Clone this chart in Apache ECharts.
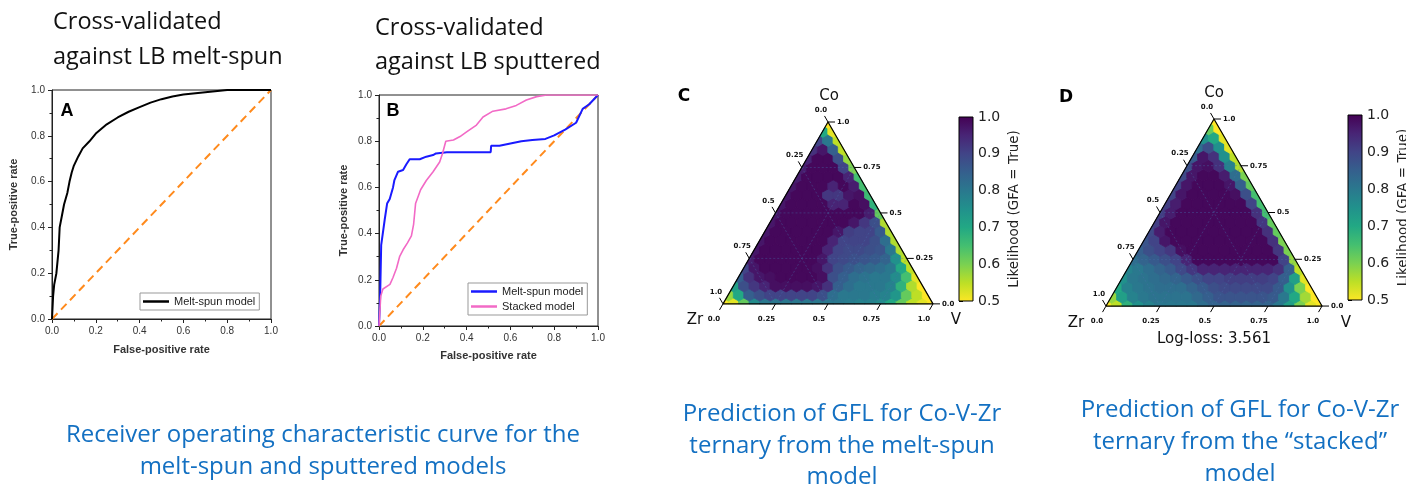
<!DOCTYPE html>
<html>
<head>
<meta charset="utf-8">
<script src="https://cdn.jsdelivr.net/npm/echarts@6/dist/echarts.min.js"></script>
<style>html,body{margin:0;padding:0;background:#fff;}#c{width:1406px;height:489px;}</style>
</head>
<body>
<div id="c"></div>
<script>
// ---------- ROC data (panel A) ----------
const rocA_fpr = [0,0.005,0.01,0.02,0.03,0.035,0.045,0.055,0.07,0.08,0.09,0.1,0.12,0.14,0.17,0.2,0.25,0.3,0.35,0.4,0.45,0.5,0.55,0.6,0.7,0.8,1.0];
const rocA_tpr = [0,0.1,0.15,0.2,0.3,0.4,0.45,0.5,0.55,0.6,0.64,0.67,0.71,0.745,0.775,0.81,0.85,0.88,0.905,0.925,0.945,0.96,0.972,0.98,0.99,1.0,1.0];
// ---------- ROC data (panel B) ----------
const rocBmelt_fpr = [0,0.005,0.01,0.026,0.037,0.049,0.064,0.07,0.087,0.11,0.125,0.14,0.186,0.216,0.247,0.26,0.31,0.51,0.512,0.55,0.6,0.65,0.7,0.76,0.8,0.85,0.9,0.93,0.96,1.0];
const rocBmelt_tpr = [0,0.12,0.35,0.46,0.53,0.55,0.6,0.63,0.668,0.675,0.7,0.722,0.722,0.733,0.74,0.747,0.752,0.752,0.78,0.78,0.79,0.8,0.805,0.81,0.825,0.85,0.88,0.94,0.96,1.0];
const rocBstack_fpr = [0,0.008,0.018,0.05,0.064,0.08,0.094,0.11,0.13,0.148,0.158,0.167,0.19,0.216,0.247,0.277,0.29,0.305,0.34,0.37,0.4,0.445,0.475,0.52,0.58,0.627,0.673,0.72,0.765,1.0];
const rocBstack_tpr = [0,0.13,0.16,0.18,0.21,0.25,0.30,0.33,0.36,0.39,0.44,0.53,0.59,0.63,0.668,0.71,0.747,0.80,0.805,0.82,0.84,0.87,0.905,0.93,0.94,0.955,0.978,0.993,1.0,1.0];
const diag = [0, 1];

// ---------- Ternary heat maps: rows of constant Co (Co = row/20), V from 0 to 1-Co in steps of 0.05 ----------
const heatC = [
 [0.5,0.52,0.62,0.76,0.8,0.8,0.8,0.8,0.8,0.8,0.8,0.8,0.79,0.78,0.78,0.76,0.7,0.62,0.55,0.52,0.5],
 [0.58,0.7,0.85,0.88,0.9,0.9,0.9,0.9,0.9,0.88,0.82,0.8,0.8,0.8,0.79,0.78,0.74,0.62,0.55,0.5],
 [0.72,0.88,0.92,0.95,0.98,0.98,0.98,0.98,0.97,0.93,0.85,0.82,0.8,0.8,0.8,0.78,0.68,0.56,0.5],
 [0.85,0.93,0.97,0.98,0.99,0.99,0.99,0.99,0.98,0.88,0.85,0.82,0.81,0.8,0.8,0.76,0.65,0.52],
 [0.9,0.97,0.99,0.99,0.99,0.99,0.99,0.98,0.93,0.88,0.86,0.84,0.83,0.82,0.8,0.7,0.55],
 [0.96,0.99,0.99,0.99,0.99,0.99,0.99,0.97,0.9,0.89,0.88,0.87,0.86,0.84,0.75,0.55],
 [0.97,0.99,0.99,0.99,0.99,0.99,0.99,0.95,0.9,0.89,0.89,0.88,0.87,0.8,0.56],
 [0.97,0.99,0.99,0.99,0.99,0.99,0.99,0.95,0.9,0.9,0.9,0.88,0.82,0.56],
 [0.97,0.99,0.99,0.99,0.99,0.99,0.99,0.97,0.91,0.9,0.9,0.86,0.56],
 [0.97,0.99,0.99,0.99,0.99,0.99,0.99,0.99,0.97,0.92,0.88,0.56],
 [0.97,0.99,0.99,0.99,0.99,0.99,0.99,0.99,0.99,0.96,0.62],
 [0.97,0.99,0.99,0.99,0.99,0.95,0.95,0.99,0.98,0.68],
 [0.97,0.99,0.99,0.99,0.92,0.92,0.97,0.98,0.66],
 [0.97,0.99,0.99,0.99,0.95,0.99,0.96,0.65],
 [0.96,0.99,0.99,0.99,0.99,0.95,0.65],
 [0.96,0.99,0.99,0.99,0.9,0.6],
 [0.95,0.99,0.99,0.88,0.58],
 [0.93,0.97,0.85,0.55],
 [0.9,0.8,0.55],
 [0.7,0.52],
 [0.5]
];
const heatD = [
 [0.5,0.55,0.68,0.75,0.78,0.8,0.8,0.8,0.8,0.82,0.84,0.84,0.84,0.84,0.84,0.84,0.8,0.72,0.6,0.52,0.5],
 [0.58,0.72,0.78,0.8,0.81,0.81,0.81,0.81,0.83,0.85,0.87,0.87,0.87,0.87,0.87,0.86,0.8,0.7,0.57,0.5],
 [0.7,0.78,0.8,0.81,0.82,0.82,0.82,0.84,0.86,0.88,0.89,0.89,0.89,0.89,0.89,0.86,0.75,0.6,0.5],
 [0.75,0.8,0.81,0.82,0.83,0.84,0.86,0.88,0.9,0.9,0.91,0.91,0.91,0.91,0.9,0.85,0.72,0.52],
 [0.78,0.8,0.82,0.84,0.86,0.89,0.92,0.95,0.95,0.95,0.95,0.95,0.95,0.95,0.93,0.85,0.55],
 [0.82,0.84,0.86,0.88,0.9,0.95,0.99,0.99,0.99,0.99,0.99,0.99,0.99,0.99,0.9,0.58],
 [0.85,0.88,0.9,0.92,0.98,0.99,0.99,0.99,0.99,0.99,0.99,0.99,0.99,0.92,0.6],
 [0.87,0.9,0.97,0.99,0.99,0.99,0.99,0.99,0.99,0.99,0.99,0.99,0.93,0.6],
 [0.89,0.96,0.99,0.99,0.99,0.99,0.99,0.99,0.99,0.99,0.99,0.93,0.62],
 [0.91,0.97,0.99,0.99,0.99,0.99,0.99,0.99,0.99,0.99,0.92,0.62],
 [0.91,0.96,0.99,0.99,0.99,0.99,0.99,0.99,0.99,0.93,0.65],
 [0.91,0.96,0.99,0.99,0.99,0.99,0.99,0.99,0.9,0.65],
 [0.9,0.97,0.99,0.99,0.99,0.99,0.98,0.88,0.65],
 [0.9,0.97,0.99,0.99,0.99,0.97,0.85,0.62],
 [0.89,0.97,0.99,0.99,0.96,0.82,0.6],
 [0.88,0.97,0.98,0.93,0.78,0.56],
 [0.86,0.97,0.93,0.75,0.55],
 [0.82,0.88,0.75,0.52],
 [0.75,0.7,0.52],
 [0.62,0.5],
 [0.5]
];
const ternTicks = [0, 0.25, 0.5, 0.75, 1.0];
const ternTickLabels = ['0.0', '0.25', '0.5', '0.75', '1.0'];
const ternGridVals = [0.25, 0.5, 0.75];
const cbRange = [0.5, 1.0];
const VIRIDIS = ['#440154','#482475','#414487','#355f8d','#2a788e','#21918c','#22a884','#44bf70','#7ad151','#bddf26','#fde725'];

// ---------- helpers ----------
const SQ3 = Math.sqrt(3);
const N = heatC.length - 1;
function tern(co, v) { return [v + co / 2, co * SQ3 / 2]; }
function zip(a, b) { return a.map((x, i) => [x, b[i]]); }
function heatData(rows) {
  const out = [];
  rows.forEach((row, c) => row.forEach((val, v) => {
    const p = tern(c / N, v / N);
    out.push([p[0], p[1], val]);
  }));
  return out;
}
function clipHex(cx, cy, r) {
  let pts = [];
  for (let k = 0; k < 6; k++) {
    const a = Math.PI / 6 + k * Math.PI / 3;
    pts.push([cx + r * Math.cos(a), cy + r * Math.sin(a)]);
  }
  const fs = [p => p[1], p => SQ3 * p[0] - p[1], p => SQ3 * (1 - p[0]) - p[1]];
  for (const f of fs) {
    const out = [];
    for (let i = 0; i < pts.length; i++) {
      const A = pts[i], B = pts[(i + 1) % pts.length];
      const fa = f(A), fb = f(B);
      if (fa >= 0) out.push(A);
      if ((fa >= 0) !== (fb >= 0)) {
        const t = fa / (fa - fb);
        out.push([A[0] + t * (B[0] - A[0]), A[1] + t * (B[1] - A[1])]);
      }
    }
    pts = out;
    if (!pts.length) break;
  }
  return pts;
}
const HEX_R = (1 / N) / SQ3 * 1.04;
function heatRender(params, api) {
  const pts = clipHex(api.value(0), api.value(1), HEX_R).map(p => api.coord(p));
  const col = api.visual('color');
  return { type: 'polygon', shape: { points: pts }, style: { fill: col, stroke: col, lineWidth: 0.8 } };
}
function gridData() {
  const out = [];
  for (let ax = 0; ax < 3; ax++) ternGridVals.forEach(t => out.push([ax, t]));
  return out;
}
function gridRender(params, api) {
  const ax = api.value(0), t = api.value(1);
  let a, b;
  if (ax === 0) { a = tern(t, 0); b = tern(t, 1 - t); }
  else if (ax === 1) { a = tern(0, t); b = tern(1 - t, t); }
  else { a = tern(1 - t, 0); b = tern(0, 1 - t); }
  const p = api.coord(a), q = api.coord(b);
  return { type: 'line', shape: { x1: p[0], y1: p[1], x2: q[0], y2: q[1] },
    style: { stroke: 'rgba(70,110,170,0.55)', lineWidth: 0.7, lineDash: [2, 2] } };
}
function tickData() {
  const out = [];
  for (let ax = 0; ax < 3; ax++) ternTicks.forEach((t, i) => out.push([ax, t, i]));
  return out;
}
function tickRender(params, api) {
  const ax = api.value(0), t = api.value(1), i = api.value(2);
  let P, d, off, align;
  if (ax === 0) { P = tern(0, t); d = [-0.5, -SQ3 / 2]; off = 18; align = 'center'; }
  else if (ax === 1) { P = tern(t, 1 - t); d = [1, 0]; off = 9; align = 'left'; }
  else { P = tern(1 - t, 0); d = [-0.5, SQ3 / 2]; off = 14; align = 'center'; }
  const p = api.coord(P);
  const dx = d[0], dy = -d[1];
  return { type: 'group', children: [
    { type: 'line', shape: { x1: p[0], y1: p[1], x2: p[0] + dx * 7, y2: p[1] + dy * 7 }, style: { stroke: '#000', lineWidth: 1 } },
    { type: 'text', style: { text: ternTickLabels[i], x: p[0] + dx * off, y: p[1] + dy * off, fill: '#111',
      font: 'bold 7px "DejaVu Sans"', align: align, textAlign: align, verticalAlign: 'middle', textVerticalAlign: 'middle' } }
  ] };
}
function borderData() { return [tern(0, 0), tern(0, 1), tern(1, 0), tern(0, 0)]; }
function cbRender(params, api) {
  const p0 = api.coord([0, api.value(0)]);
  const p1 = api.coord([1, api.value(1)]);
  return { type: 'rect', shape: { x: p0[0], y: p1[1], width: p1[0] - p0[0], height: p0[1] - p1[1] },
    style: { fill: new echarts.graphic.LinearGradient(0, 0, 0, 1, VIRIDIS.map((c, i) => ({ offset: i / 10, color: c }))),
      stroke: '#000', lineWidth: 1 } };
}

function rocX(grid, gap) {
  return { gridIndex: grid, type: 'value', min: 0, max: 1, interval: 0.2,
    axisLine: { show: true, lineStyle: { color: '#222', width: 1 } },
    axisTick: { show: true, inside: false, length: 4, lineStyle: { color: '#222' } },
    minorTick: { show: true, splitNumber: 2, length: 2.5, lineStyle: { color: '#222' } },
    splitLine: { show: false },
    axisLabel: { formatter: v => v.toFixed(1), fontSize: 10, color: '#333', margin: 7, fontFamily: 'Liberation Sans' },
    name: 'False-positive rate', nameLocation: 'middle', nameGap: gap,
    nameTextStyle: { fontSize: 11, fontWeight: 'bold', color: '#333', fontFamily: 'Liberation Sans' } };
}
function rocY(grid, gap) {
  return { gridIndex: grid, type: 'value', min: 0, max: 1, interval: 0.2,
    axisLine: { show: true, lineStyle: { color: '#222', width: 1 } },
    axisTick: { show: true, inside: false, length: 4, lineStyle: { color: '#222' } },
    minorTick: { show: true, splitNumber: 2, length: 2.5, lineStyle: { color: '#222' } },
    splitLine: { show: false },
    axisLabel: { formatter: v => v.toFixed(1), fontSize: 10, color: '#333', margin: 7, fontFamily: 'Liberation Sans' },
    name: 'True-positive rate', nameLocation: 'middle', nameGap: gap,
    nameTextStyle: { fontSize: 11, fontWeight: 'bold', color: '#333', fontFamily: 'Liberation Sans' } };
}
const hidX = g => ({ gridIndex: g, type: 'value', min: 0, max: 1, show: false });
const hidY = g => ({ gridIndex: g, type: 'value', min: 0, max: SQ3 / 2, show: false });
function cbY(g, gap) {
  return { gridIndex: g, type: 'value', min: cbRange[0], max: cbRange[1], interval: 0.1, position: 'right',
    axisLine: { show: false }, splitLine: { show: false },
    axisTick: { show: true, inside: false, length: 4, lineStyle: { color: '#000' } },
    axisLabel: { formatter: v => v.toFixed(1), fontSize: 14, color: '#222', margin: 5, fontFamily: 'DejaVu Sans' },
    name: 'Likelihood (GFA = True)', nameLocation: 'middle', nameRotate: 90, nameGap: gap,
    nameTextStyle: { fontSize: 13.5, color: '#222', fontFamily: 'DejaVu Sans' } };
}
const ROC_GRID = { show: true, borderColor: '#222', borderWidth: 1, backgroundColor: 'transparent', containLabel: false, outerBoundsMode: 'none' };
const PLAIN_GRID = { show: false, containLabel: false, outerBoundsMode: 'none' };
const rocLine = (name, x, y, data, color, w) => ({ name, type: 'line', xAxisIndex: x, yAxisIndex: y, data, symbol: 'none',
  showSymbol: false, lineStyle: { color, width: w }, itemStyle: { color }, silent: true, clip: true, z: 3 });
const diagLine = (x) => ({ name: 'diag' + x, type: 'line', xAxisIndex: x, yAxisIndex: x, data: zip(diag, diag), symbol: 'none',
  lineStyle: { color: '#ff8a1c', width: 2, type: [8, 5] }, silent: true, z: 2 });
const txt = (text, x, y, font, fill, align, lh) => ({ type: 'text', x, y, silent: true,
  style: { text, font, fill, align, textAlign: align, verticalAlign: 'middle', textVerticalAlign: 'middle', lineHeight: lh } });
const TITLE_FONT = '23.5px "Open Sans"';
const CAP_FONT = '24px "Open Sans"';
const BLUE = '#1370c2';
const legendBase = { orient: 'vertical', icon: 'rect', itemWidth: 26, itemHeight: 2.5, itemGap: 4,
  padding: [3, 4, 3, 3], borderColor: '#999', borderWidth: 1, selectedMode: false,
  formatter: n => n.slice(3), textStyle: { fontSize: 11, color: '#222', fontFamily: 'Liberation Sans' } };

const option = {
  animation: false,
  backgroundColor: '#ffffff',
  grid: [
    Object.assign({ left: 52, top: 90, width: 219, height: 229 }, ROC_GRID),
    Object.assign({ left: 379, top: 95, width: 219, height: 231 }, ROC_GRID),
    Object.assign({ left: 723, top: 122, width: 210, height: 210 * SQ3 / 2 }, PLAIN_GRID),
    Object.assign({ left: 959, top: 117, width: 14, height: 184 }, PLAIN_GRID),
    Object.assign({ left: 1106, top: 119, width: 216, height: 216 * SQ3 / 2 }, PLAIN_GRID),
    Object.assign({ left: 1348, top: 115, width: 14, height: 185 }, PLAIN_GRID)
  ],
  xAxis: [rocX(0, 25), rocX(1, 24), hidX(2), hidX(3), hidX(4), hidX(5)],
  yAxis: [rocY(0, 33), rocY(1, 30), hidY(2), cbY(3, 34), hidY(4), cbY(5, 34)],
  visualMap: { type: 'continuous', show: false, min: cbRange[0], max: cbRange[1], dimension: 2,
    seriesIndex: [5, 10], inRange: { color: VIRIDIS.slice().reverse() } },
  legend: [
    Object.assign({ data: ['A: Melt-spun model'], left: 140, top: 293 }, legendBase),
    Object.assign({ data: ['B: Melt-spun model', 'B: Stacked model'], left: 468, top: 283 }, legendBase)
  ],
  series: [
    diagLine(0),
    rocLine('A: Melt-spun model', 0, 0, zip(rocA_fpr, rocA_tpr), '#000000', 2),
    diagLine(1),
    rocLine('B: Melt-spun model', 1, 1, zip(rocBmelt_fpr, rocBmelt_tpr), '#1a1aff', 2),
    rocLine('B: Stacked model', 1, 1, zip(rocBstack_fpr, rocBstack_tpr), '#f26ac6', 1.6),
    { type: 'custom', xAxisIndex: 2, yAxisIndex: 2, data: heatData(heatC), renderItem: heatRender, clip: false, silent: true, encode: { x: 0, y: 1 }, z: 2 },
    { type: 'custom', xAxisIndex: 2, yAxisIndex: 2, data: gridData(), renderItem: gridRender, clip: false, silent: true, z: 3 },
    { type: 'line', xAxisIndex: 2, yAxisIndex: 2, data: borderData(), symbol: 'none', clip: false, silent: true, lineStyle: { color: '#000', width: 1.2 }, z: 4 },
    { type: 'custom', xAxisIndex: 2, yAxisIndex: 2, data: tickData(), renderItem: tickRender, clip: false, silent: true, z: 4 },
    { type: 'custom', xAxisIndex: 3, yAxisIndex: 3, data: [cbRange], renderItem: cbRender, clip: false, silent: true, encode: { y: [0, 1] }, z: 2 },
    { type: 'custom', xAxisIndex: 4, yAxisIndex: 4, data: heatData(heatD), renderItem: heatRender, clip: false, silent: true, encode: { x: 0, y: 1 }, z: 2 },
    { type: 'custom', xAxisIndex: 4, yAxisIndex: 4, data: gridData(), renderItem: gridRender, clip: false, silent: true, z: 3 },
    { type: 'line', xAxisIndex: 4, yAxisIndex: 4, data: borderData(), symbol: 'none', clip: false, silent: true, lineStyle: { color: '#000', width: 1.2 }, z: 4 },
    { type: 'custom', xAxisIndex: 4, yAxisIndex: 4, data: tickData(), renderItem: tickRender, clip: false, silent: true, z: 4 },
    { type: 'custom', xAxisIndex: 5, yAxisIndex: 5, data: [cbRange], renderItem: cbRender, clip: false, silent: true, encode: { y: [0, 1] }, z: 2 }
  ],
  graphic: [
    txt('Cross-validated\nagainst LB melt-spun', 53, 40, TITLE_FONT, '#111', 'left', 35),
    txt('Cross-validated\nagainst LB sputtered', 375, 45, TITLE_FONT, '#111', 'left', 34),
    txt('Receiver operating characteristic curve for the\nmelt-spun and sputtered models', 323, 451, CAP_FONT, BLUE, 'center', 32),
    txt('Prediction of GFL for Co-V-Zr\nternary from the melt-spun\nmodel', 842, 446, CAP_FONT, BLUE, 'center', 31.5),
    txt('Prediction of GFL for Co-V-Zr\nternary from the \u201cstacked\u201d\nmodel', 1240, 442, CAP_FONT, BLUE, 'center', 32),
    txt('A', 67, 111, 'bold 18px "Liberation Sans"', '#000', 'center'),
    txt('B', 393, 111, 'bold 18px "Liberation Sans"', '#000', 'center'),
    txt('C', 684, 97, 'bold 17px "DejaVu Sans"', '#000', 'center'),
    txt('D', 1066, 98, 'bold 17px "DejaVu Sans"', '#000', 'center'),
    txt('Co', 829, 96, '15px "DejaVu Sans"', '#111', 'center'),
    txt('Zr', 695, 320, '15px "DejaVu Sans"', '#111', 'center'),
    txt('V', 956, 320, '15px "DejaVu Sans"', '#111', 'center'),
    txt('Co', 1214, 93, '15px "DejaVu Sans"', '#111', 'center'),
    txt('Zr', 1076, 323, '15px "DejaVu Sans"', '#111', 'center'),
    txt('V', 1346, 323, '15px "DejaVu Sans"', '#111', 'center'),
    txt('Log-loss: 3.561', 1214, 339, '15px "DejaVu Sans"', '#111', 'center')
  ]
};
const chart = echarts.init(document.getElementById('c'), null, { renderer: 'canvas', width: 1406, height: 489 });
chart.setOption(option);
</script>
</body>
</html>
